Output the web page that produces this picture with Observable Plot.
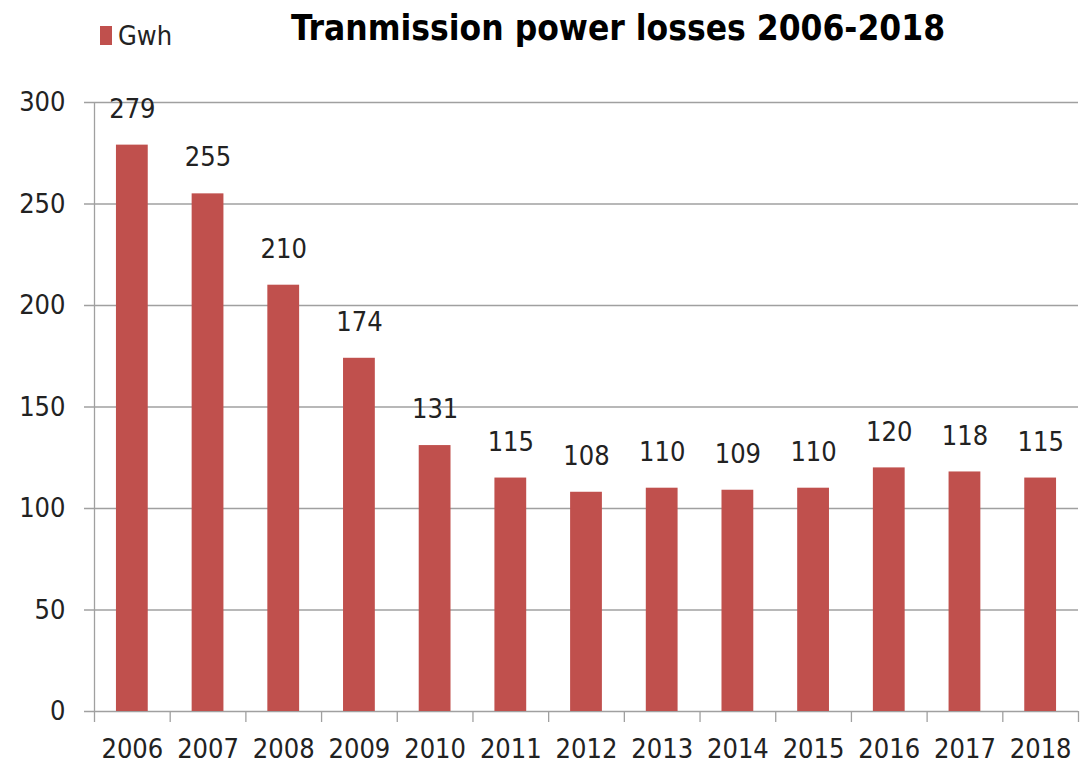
<!DOCTYPE html>
<html>
<head>
<meta charset="utf-8">
<script src="https://cdn.jsdelivr.net/npm/d3@7"></script>
<script src="https://cdn.jsdelivr.net/npm/@observablehq/plot@0.6"></script>
<style>
  body { margin: 0; background: #fff; font-family: "DejaVu Sans Condensed", sans-serif; }
  #wrap { position: relative; width: 1089px; height: 770px; }
  #header { position: relative; height: 70px; }
  #legend { position: absolute; left: 100px; top: 20px; display: flex; align-items: center; font-size: 27px; color: #222; }
  #legend .sw { width: 12px; height: 19px; background: #C0504D; margin-right: 6px; }
  #title { position: absolute; left: 0; width: 1236px; top: 8px; text-align: center; font-weight: bold; font-size: 35px; color: #000; }
</style>
</head>
<body>
<div id="wrap">
  <div id="header">
    <div id="legend"><span class="sw"></span><span>Gwh</span></div>
    <div id="title">Tranmission power losses 2006-2018</div>
  </div>
  <div id="chart"></div>
</div>
<script>
const years = ["2006","2007","2008","2009","2010","2011","2012","2013","2014","2015","2016","2017","2018"];
const losses = [279, 255, 210, 174, 131, 115, 108, 110, 109, 110, 120, 118, 115];
const yTicks = [0, 50, 100, 150, 200, 250, 300];

const data = years.map((y, i) => ({year: y, value: losses[i]}));
const width = 1089, height = 700;
const mL = 94, mR = 11, mT = 32, mB = 59;
const step = (width - mL - mR) / years.length;
const plotH = height - mT - mB;
const fs = 27;

const chart = Plot.plot({
  width, height,
  marginLeft: mL, marginRight: mR, marginTop: mT, marginBottom: mB,
  style: {fontFamily: '"DejaVu Sans Condensed", sans-serif', fontSize: fs + "px", color: "#222", background: "#fff"},
  x: {domain: years, paddingInner: 0.58, paddingOuter: 0.29, round: false, label: null},
  y: {domain: [0, 300], label: null},
  marks: [
    Plot.ruleY(yTicks, {stroke: "#a0a0a0", strokeWidth: 1.3, insetLeft: -10}),
    Plot.ruleX([years[0]], {stroke: "#a0a0a0", strokeWidth: 1.3, dx: -step / 2}),
    Plot.ruleX(years, {stroke: "#a0a0a0", strokeWidth: 1.3, dx: step / 2, insetTop: plotH, insetBottom: -11}),
    Plot.ruleX([years[0]], {stroke: "#a0a0a0", strokeWidth: 1.3, dx: -step / 2, insetTop: plotH, insetBottom: -11}),
    Plot.barY(data, {x: "year", y: "value", fill: "#C0504D"}),
    Plot.text(data, {x: "year", y: "value", text: d => String(d.value), dy: -36, fill: "#222", fontSize: fs}),
    Plot.axisX({tickSize: 0, tickPadding: 27, fontSize: fs}),
    Plot.axisY({ticks: yTicks, tickSize: 0, tickPadding: 29, fontSize: fs})
  ]
});
document.getElementById("chart").appendChild(chart);
</script>
</body>
</html>
